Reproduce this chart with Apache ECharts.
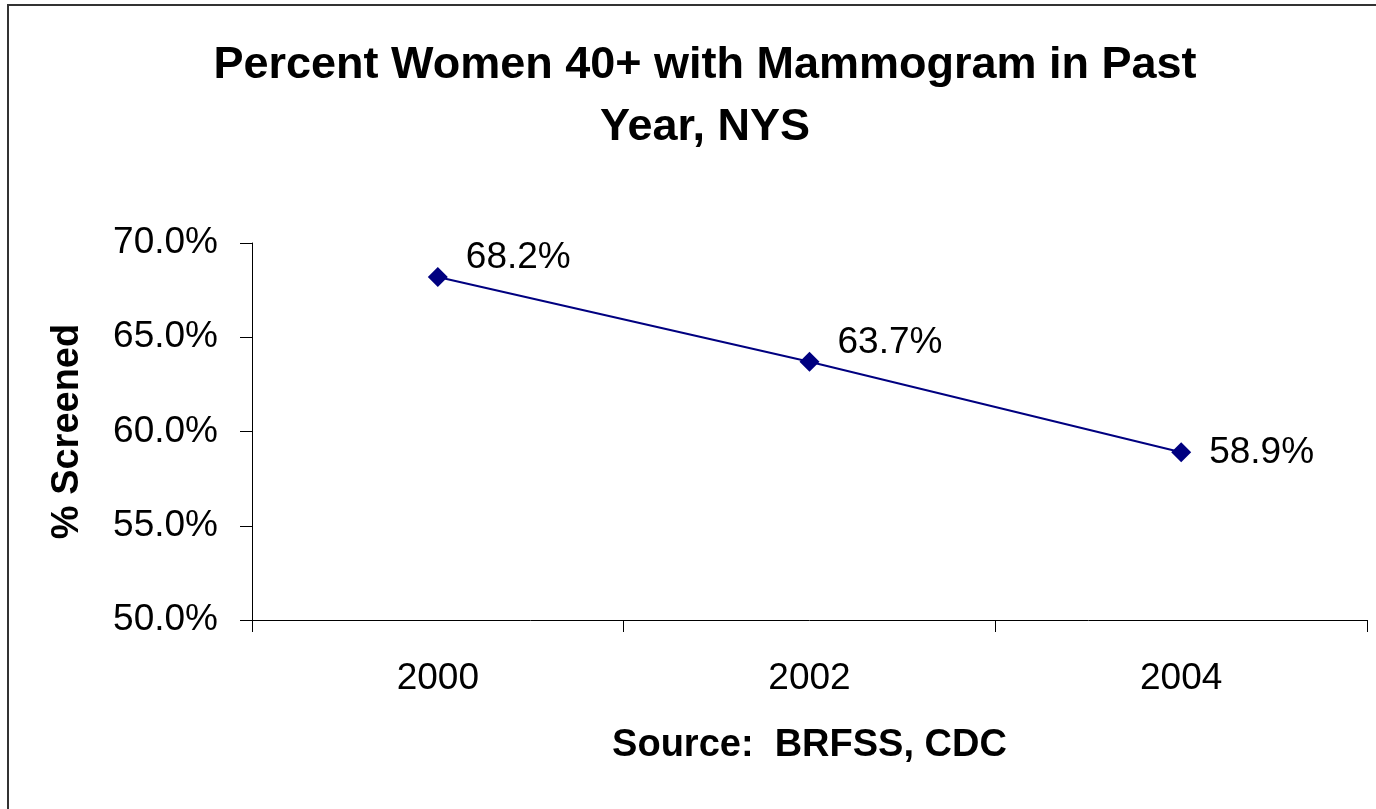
<!DOCTYPE html>
<html>
<head>
<meta charset="utf-8">
<script src="https://cdn.jsdelivr.net/npm/echarts@6/dist/echarts.min.js"></script>
<style>
  html, body { margin: 0; padding: 0; background: #fff; }
  #chart { width: 1376px; height: 809px; }
</style>
</head>
<body>
<div id="chart"></div>
<script>
const years = ['2000', '2002', '2004']
const screened = [68.2, 63.7, 58.9]
const yTicks = { min: 50, max: 70, interval: 5 }

const font = '"Liberation Sans", Arial, sans-serif'
const chart = echarts.init(document.getElementById('chart'))

chart.setOption({
  backgroundColor: '#fff',
  textStyle: { fontFamily: font, color: '#000' },
  title: {
    text: 'Percent Women 40+ with Mammogram in Past\nYear, NYS',
    left: 700,
    top: 30,
    textAlign: 'center',
    textStyle: {
      fontFamily: font,
      fontSize: 45,
      fontWeight: 'bold',
      lineHeight: 62,
      color: '#000'
    }
  },
  graphic: [
    {
      type: 'rect',
      shape: { x: 8, y: 5, width: 1400, height: 840 },
      style: { fill: 'none', stroke: '#333', lineWidth: 2 },
      silent: true
    }
  ],
  grid: { left: 252, right: 9, top: 243, bottom: 189 },
  xAxis: {
    type: 'category',
    data: years,
    boundaryGap: true,
    name: 'Source:  BRFSS, CDC',
    nameLocation: 'middle',
    nameGap: 107,
    nameTextStyle: { fontFamily: font, fontSize: 38, fontWeight: 'bold', color: '#000' },
    axisLine: { lineStyle: { color: '#000', width: 1 } },
    axisTick: { show: true, length: 12, lineStyle: { color: '#000' } },
    axisLabel: { fontFamily: font, fontSize: 37, color: '#000', margin: 40 },
    splitLine: { show: false }
  },
  yAxis: {
    type: 'value',
    min: yTicks.min,
    max: yTicks.max,
    interval: yTicks.interval,
    name: '% Screened',
    nameLocation: 'middle',
    nameGap: 165,
    nameTextStyle: { fontFamily: font, fontSize: 38, fontWeight: 'bold', color: '#000' },
    axisLine: { show: true, lineStyle: { color: '#000', width: 1 } },
    axisTick: { show: true, length: 12, lineStyle: { color: '#000' } },
    axisLabel: {
      fontFamily: font,
      fontSize: 37,
      color: '#000',
      margin: 34,
      formatter: v => v.toFixed(1) + '%'
    },
    splitLine: { show: false }
  },
  series: [
    {
      type: 'line',
      data: screened.map((v, i) => ({
        value: v,
        label: { offset: i < 2 ? [0, -19] : [0, 1] }
      })),
      symbol: 'diamond',
      symbolSize: 20,
      itemStyle: { color: '#000080' },
      lineStyle: { color: '#000080', width: 2 },
      label: {
        show: true,
        position: 'right',
        distance: 18,
        fontFamily: font,
        fontSize: 37,
        color: '#000',
        formatter: p => p.value.toFixed(1) + '%'
      },
      animation: false
    }
  ]
})
</script>
</body>
</html>
